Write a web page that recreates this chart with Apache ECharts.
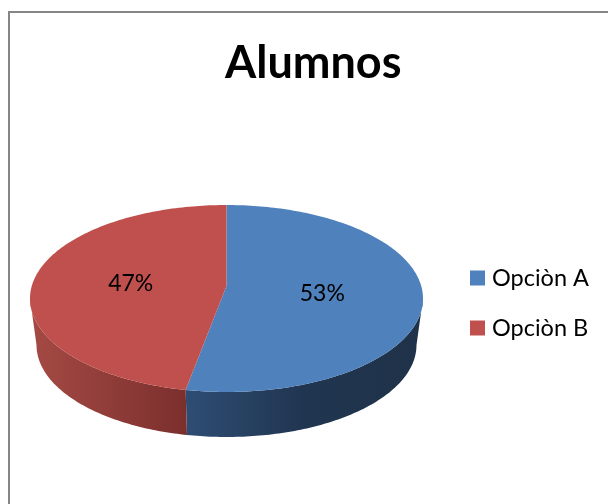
<!DOCTYPE html>
<html><head><meta charset="utf-8">
<style>html,body{margin:0;padding:0;background:#fff}#c{width:608px;height:504px}</style>
<script src="https://cdn.jsdelivr.net/npm/echarts@6/dist/echarts.min.js"></script>
</head><body><div id="c"></div>
<script>
const categories = ['Opciòn A', 'Opciòn B'];
const values = [16, 14];
const colors = ['#4f81bd', '#c0504d'];
const wallStops = [
  [[0, '#2e4d74'], [0.5, '#203550'], [1, '#1f3249']],
  [[0, '#a54a44'], [1, '#7b2f2d']]
];
const total = values.reduce((a, b) => a + b, 0);
const cx = 226.5, topCy = 298.5, pivotY = 286, rx = 196.5, ry = 93.5;
const botCy = 345, botRx = 190, botRy = 92;
const D = Math.PI / 180;
const pt = (t, x0, y0, a, b) => [x0 + a * Math.sin(t * D), y0 - b * Math.cos(t * D)];

function arc(from, to, x0, y0, a, b) {
  const n = Math.max(2, Math.ceil(Math.abs(to - from)));
  const out = [];
  for (let i = 0; i <= n; i++) out.push(pt(from + (to - from) * i / n, x0, y0, a, b));
  return out;
}
function makeSeries(idx) {
  const before = values.slice(0, idx).reduce((a, b) => a + b, 0);
  const start = before / total * 360, end = (before + values[idx]) / total * 360;
  const mid = (start + end) / 2;
  const pct = Math.round(values[idx] / total * 100) + '%';
  return {
    type: 'custom', name: categories[idx], coordinateSystem: 'none',
    itemStyle: { color: colors[idx] },
    data: [[values[idx]]],
    silent: true,
    renderItem() {
      const children = [];
      const wFrom = Math.max(start, 90), wTo = Math.min(end, 270);
      if (wTo > wFrom) {
        const pts = arc(wFrom, wTo, cx, topCy, rx, ry).concat(arc(wTo, wFrom, cx, botCy, botRx, botRy));
        children.push({
          type: 'polygon', shape: { points: pts },
          style: { fill: new echarts.graphic.LinearGradient(0, 0, 1, 0,
            wallStops[idx].map(s => ({ offset: s[0], color: s[1] }))) }
        });
      }
      const face = [[cx, pivotY]].concat(arc(start, end, cx, topCy, rx, ry));
      children.push({ type: 'polygon', shape: { points: face }, style: { fill: colors[idx] } });
      const lp = pt(mid, cx, pivotY + 2.5, rx * 0.49, ry * 0.49);
      children.push({
        type: 'text', z2: 10,
        style: { text: pct, x: lp[0], y: lp[1], align: 'center', verticalAlign: 'middle',
          fontFamily: 'Lato', fontSize: 23, fill: '#000' }
      });
      return { type: 'group', children };
    }
  };
}
const chart = echarts.init(document.getElementById('c'), null, { renderer: 'canvas' });
chart.setOption({
  animation: false,
  backgroundColor: '#fff',
  title: { text: 'Alumnos', left: 225, top: 41,
    textStyle: { fontFamily: 'Lato', fontWeight: 'bold', fontSize: 45, color: '#000' }, padding: 0 },
  legend: { orient: 'vertical', left: 470, top: 266, itemWidth: 15, itemHeight: 15, itemGap: 26,
    padding: 0, icon: 'rect', data: categories,
    textStyle: { fontFamily: 'Lato', fontSize: 23.5, color: '#000', padding: [0, 0, 0, 2] } },
  graphic: [{ type: 'polyline', silent: true,
    shape: { points: [[9, 520], [9, 12], [620, 12]] },
    style: { stroke: '#868686', lineWidth: 2, fill: null } }],
  series: categories.map((_, i) => makeSeries(i))
});
</script></body></html>
